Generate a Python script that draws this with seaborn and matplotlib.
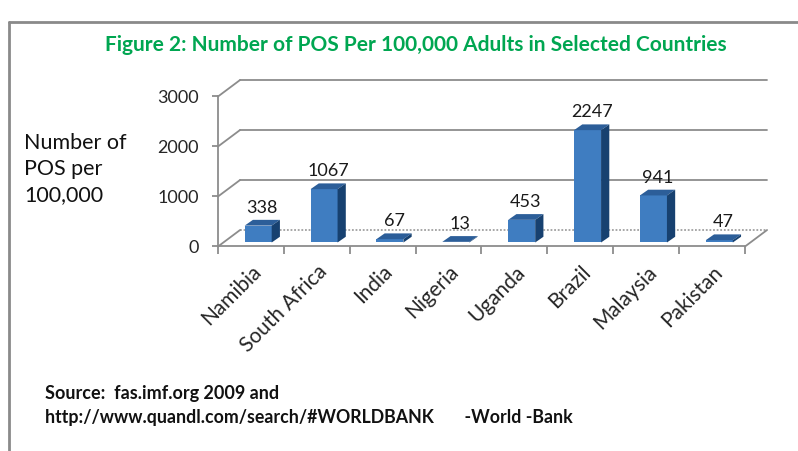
import numpy as np
import pandas as pd
import matplotlib
matplotlib.use("Agg")
import matplotlib.pyplot as plt
from matplotlib.patches import Polygon
from matplotlib.lines import Line2D
import seaborn as sns

# ---- data ----
countries = ["Namibia", "South Africa", "India", "Nigeria", "Uganda", "Brazil", "Malaysia", "Pakistan"]
pos_per_100k = [338, 1067, 67, 13, 453, 2247, 941, 47]
y_ticks = [0, 1000, 2000, 3000]
title = "Figure 2: Number of POS Per 100,000 Adults in Selected Countries"
ylabel = "Number of\nPOS per\n100,000"
source1 = "Source:  fas.imf.org 2009 and"
source2 = "http://www.quandl.com/search/#WORLDBANK       -World -Bank"

df = pd.DataFrame({"country": countries, "pos": pos_per_100k})

sns.set_theme(style="white")
plt.rcParams["font.family"] = ["Lato", "DejaVu Sans"]

W, H = 798, 451
fig = plt.figure(figsize=(W / 100, H / 100), dpi=100)
ax = fig.add_axes([218 / W, 1 - 246.5 / H, 527 / W, 150 / H])

FRONT = "#3F7DC1"
TOP = "#2C5E99"
SIDE = "#174170"
GRID = "#8C8C8C"

# 3D geometry (data units)
WDX, WDY = 0.335, 330      # back wall depth
BDX, BDY = 0.125, 115      # bar depth
SX, SY = 0.11, 80          # bar placement shift into depth

sns.barplot(data=df, x="country", y="pos", color=FRONT, saturation=1,
            width=0.41, ax=ax, zorder=3, linewidth=0)

xmin, xmax = -0.5, len(countries) - 0.5
ax.set_xlim(xmin, xmax)
ax.set_ylim(0, 3000)

# walls / grid
for v in y_ticks:
    ls = (0, (1, 1)) if v == 0 else "-"
    ax.plot([xmin + WDX, xmax + WDX], [v + WDY, v + WDY], color=GRID if v else "#A0A0A0",
            lw=1.3, ls=ls, clip_on=False, zorder=1)
    ax.plot([xmin, xmin + WDX], [v, v + WDY], color=GRID, lw=1.3, clip_on=False, zorder=1)
ax.plot([xmax, xmax + WDX], [0, WDY], color=GRID, lw=1.3, clip_on=False, zorder=1)

# bars 3D faces
for p, val in zip(ax.patches, pos_per_100k):
    p.set_x(p.get_x() + SX)
    p.set_y(SY)
    x0 = p.get_x()
    x1 = x0 + p.get_width()
    b = p.get_y()
    t = b + p.get_height()
    p.set_clip_on(False)
    ax.add_patch(Polygon([(x0, t), (x1, t), (x1 + BDX, t + BDY), (x0 + BDX, t + BDY)],
                         closed=True, facecolor=TOP, edgecolor="none", zorder=4, clip_on=False))
    ax.add_patch(Polygon([(x1, b), (x1 + BDX, b + BDY), (x1 + BDX, t + BDY), (x1, t)],
                         closed=True, facecolor=SIDE, edgecolor="none", zorder=4, clip_on=False))
    ax.text((x0 + x1) / 2 + BDX / 2, t + BDY + 80, f"{val}", ha="center", va="bottom",
            fontsize=13, color="#1a1a1a", clip_on=False, zorder=5)

# axes styling
for s in ["top", "right"]:
    ax.spines[s].set_visible(False)
for s in ["left", "bottom"]:
    ax.spines[s].set_color(GRID)
    ax.spines[s].set_linewidth(1.3)
ax.set_xlabel("")
ax.set_ylabel("")
ax.set_yticks(y_ticks)
ax.set_yticklabels([str(v) for v in y_ticks], fontsize=13)
ax.tick_params(axis="y", direction="out", length=4.5, width=1.3, color=GRID, pad=9.5, left=True)
ax.set_xticks(np.arange(len(countries) + 1) - 0.5, minor=True)
ax.tick_params(axis="x", which="minor", direction="out", length=6, width=1.3, color=GRID, bottom=True)
ax.tick_params(axis="x", which="major", length=0, pad=11)
ax.set_xticks(range(len(countries)))
ax.set_xticklabels(countries, rotation=45, ha="right", va="top", rotation_mode="anchor",
                   fontsize=15)

# figure text
fig.text(416 / W, 1 - 45 / H, title, ha="center", va="center", fontsize=15,
         fontweight="bold", color="#00A651")
fig.text(24 / W, 1 - 133 / H, ylabel, ha="left", va="top", fontsize=15.5, linespacing=1.38,
         color="#111111")
fig.text(45 / W, 1 - 393 / H, source1, ha="left", va="center", fontsize=13,
         fontweight="bold", color="#111111")
fig.text(45 / W, 1 - 418 / H, source2, ha="left", va="center", fontsize=12.8,
         fontweight="bold", color="#111111")

# outer frame
fig.add_artist(Line2D([9 / W, 9 / W], [0, 1 - 22 / H], color="#8A8A8A", lw=2))
fig.add_artist(Line2D([9 / W, 1], [1 - 22 / H, 1 - 22 / H], color="#8A8A8A", lw=2))

fig.savefig("out.png", dpi=100)
